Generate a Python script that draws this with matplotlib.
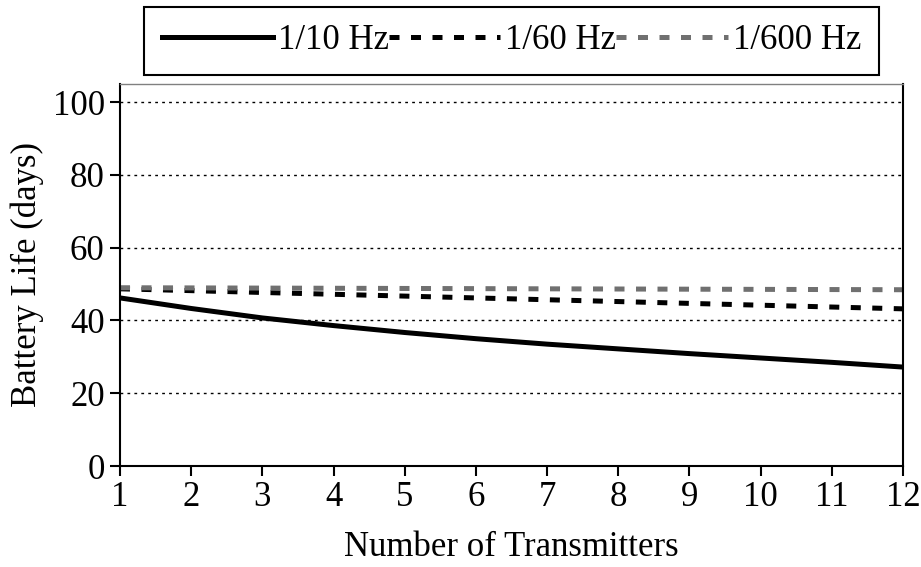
import matplotlib
matplotlib.use("Agg")
import matplotlib.pyplot as plt

# data
transmitters = [1, 2, 3, 4, 5, 6, 7, 8, 9, 10, 11, 12]
life_10 = [46.2, 43.3, 40.7, 38.6, 36.7, 35.0, 33.5, 32.2, 30.9, 29.7, 28.5, 27.2]
life_60 = [48.7, 48.2, 47.7, 47.2, 46.7, 46.2, 45.7, 45.2, 44.7, 44.2, 43.7, 43.2]
life_600 = [49.0, 48.95, 48.9, 48.85, 48.8, 48.75, 48.7, 48.65, 48.6, 48.55, 48.5, 48.45]
labels = ["1/10 Hz", "1/60 Hz", "1/600 Hz"]

plt.rcParams['font.family'] = ['Liberation Serif', 'DejaVu Serif']
plt.rcParams['font.size'] = 25

fig = plt.figure(figsize=(9.21, 5.67), dpi=100)
ax = fig.add_axes([0.1303, 0.178, 0.8502, 0.674])

ax.plot(transmitters, life_10, color='black', lw=3.6, label=labels[0])
ax.plot(transmitters, life_60, color='black', lw=3.6, dashes=(2.0, 2.3), label=labels[1])
ax.plot(transmitters, life_600, color='#707070', lw=3.6, dashes=(2.0, 2.3), label=labels[2])

ax.set_xlim(1, 12)
ax.set_ylim(0, 105)
ax.set_xticks(transmitters)
ax.set_yticks([0, 20, 40, 60, 80, 100])
ax.grid(axis='y', color='black', linestyle=(0, (2, 3)), lw=1)
ax.tick_params(direction='out', length=7, width=1.5, pad=4)
for s in ['left', 'bottom', 'right']:
    ax.spines[s].set_linewidth(1.5)
ax.spines['top'].set_color('#808080')
ax.spines['top'].set_linewidth(1)

ax.set_xlabel("Number of Transmitters", labelpad=12)
ax.set_ylabel("Battery Life (days)", labelpad=6)

leg = ax.legend(loc='lower center', bbox_to_anchor=(0.5, 1.024), ncol=3,
                handlelength=3.2, handletextpad=0.15, columnspacing=0.0,
                borderpad=0.5, borderaxespad=0, fancybox=False,
                edgecolor='black', framealpha=1)
leg.get_frame().set_linewidth(1.5)

fig.savefig("out.png", dpi=100)
